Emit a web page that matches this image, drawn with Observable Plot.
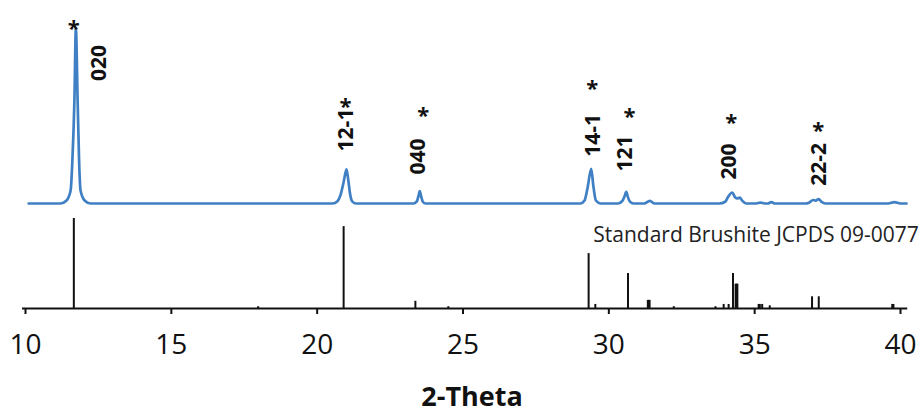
<!DOCTYPE html>
<html><head><meta charset="utf-8">
<script src="https://cdn.jsdelivr.net/npm/d3@7"></script>
<script src="https://cdn.jsdelivr.net/npm/@observablehq/plot@0.6"></script>
<style>body{margin:0;background:#fff;}</style>
</head><body><div id="chart"></div>
<script>
// Measured XRD pattern (2-theta, relative intensity, 020 peak = 100)
const patternTheta = [10.21, 11.30, 11.51, 11.65, 11.71, 11.78, 11.83, 11.89, 11.94, 11.99, 12.13, 12.33,
  20.63, 20.80, 20.90, 21.00, 21.11, 21.17, 21.24, 21.31, 21.44,
  23.40, 23.52, 23.58, 23.62, 23.67, 23.72, 23.82,
  29.13, 29.27, 29.37, 29.50, 29.57, 29.66, 29.82,
  30.42, 30.57, 30.64, 30.70, 30.76, 30.82, 30.95,
  31.32, 31.51, 31.67,
  33.89, 34.09, 34.20, 34.33, 34.44, 34.51, 34.59, 34.68, 34.81,
  35.15, 35.30, 35.45, 35.55, 35.68, 35.80,
  36.84, 36.98, 37.11, 37.19, 37.30, 37.39, 37.53,
  39.69, 39.89, 40.10, 40.31];
const patternIntensity = [0, 0, 1.7, 7.4, 24.6, 58.9, 100, 58.9, 24.6, 7.4, 1.7, 0,
  0, 1.3, 4.6, 11.4, 19.5, 13.3, 4.6, 1.1, 0,
  0, 1.2, 4.5, 7.1, 4.0, 1.2, 0,
  0, 1.7, 8.6, 19.8, 10.3, 1.7, 0,
  0, 1.5, 4.0, 6.6, 3.5, 1.2, 0,
  0, 1.5, 0,
  0, 1.0, 4.0, 6.3, 3.4, 2.9, 3.4, 1.5, 0,
  0, 0.5, 0, 0, 0.8, 0,
  0, 0.6, 2.0, 1.6, 2.5, 1.0, 0,
  0, 0.8, 0, 0];

// Standard Brushite JCPDS 09-0077 stick pattern (relative intensity)
const stickTheta = [11.76, 18.08, 21.01, 23.47, 24.60, 29.41, 29.64, 30.76, 31.44, 31.47, 31.50, 32.33, 33.76,
  34.04, 34.21, 34.36, 34.45, 34.48, 34.51, 35.24, 35.28, 35.36, 35.62, 37.07, 37.30, 39.82, 39.86];
const stickIntensity = [100, 2, 91, 8, 2, 61, 4.5, 39, 9, 9, 9, 2, 2,
  4.5, 4.5, 39, 27, 27, 27, 4.5, 4.5, 4.5, 3, 13, 13, 4.5, 4.5];

// Peak annotations (hkl) and asterisks, positioned in pattern intensity units
const peakLabels = ["020", "12-1", "040", "14-1", "121", "200", "22-2"];
const peakLabelTheta = [12.64, 21.10, 23.56, 29.56, 30.67, 34.24, 37.32];
const peakLabelLevel = [80.3, 42.0, 26.9, 38.9, 28.6, 24.0, 22.3];
const starTheta = [11.76, 21.07, 23.74, 29.53, 30.81, 34.30, 37.28];
const starLevel = [103.0, 58.5, 53.5, 68.7, 52.7, 49.3, 45.0];

const xTicks = [10, 15, 20, 25, 30, 35, 40];
const xDomain = [10, 40];
const axisEnd = 40.35;
const xLabel = "2-Theta";
const standardLabel = "Standard Brushite JCPDS 09-0077";
const standardLabelTheta = 29.57;
const standardLabelLevel = 81;

// Layout of the stacked display (y scale in drawing units)
const PATTERN_BASE = 105, PATTERN_GAIN = 1.75, STICK_GAIN = 0.9;

const pattern = patternTheta.map((t, i) => ({t, y: PATTERN_BASE + patternIntensity[i] * PATTERN_GAIN}));
const sticks = stickTheta.map((t, i) => ({t, y: stickIntensity[i] * STICK_GAIN}));
const labels = peakLabels.map((s, i) => ({s, t: peakLabelTheta[i], y: PATTERN_BASE + peakLabelLevel[i] * PATTERN_GAIN}));
const stars = starTheta.map((t, i) => ({t, y: PATTERN_BASE + starLevel[i] * PATTERN_GAIN}));

const chart = Plot.plot({
  width: 922,
  height: 418,
  marginLeft: 22,
  marginRight: 25,
  marginTop: 0,
  marginBottom: 110,
  style: {fontFamily: "'Open Sans', sans-serif", background: "#fff", color: "#111"},
  x: {domain: xDomain},
  y: {domain: [0, 308], axis: null},
  marks: [
    Plot.axisX({ticks: xTicks, tickSize: 6, tickPadding: 20, fontSize: 28, label: null, tickFormat: d => String(d), stroke: "#111", strokeWidth: 2, dx: 3}),
    Plot.ruleY([0], {x1: xDomain[0], x2: axisEnd, stroke: "#111", strokeWidth: 2}),
    Plot.ruleX(sticks, {x: "t", y1: 0, y2: "y", stroke: "#111", strokeWidth: 2}),
    Plot.line(pattern, {x: "t", y: "y", stroke: "#3f7fc4", strokeWidth: 2.7, curve: "monotone-x"}),
    Plot.text(labels, {x: "t", y: "y", text: "s", rotate: -90, fontSize: 21, fontWeight: "bold", fill: "#111"}),
    Plot.text(stars, {x: "t", y: "y", text: () => "*", fontSize: 22, fontWeight: "bold", fill: "#111", dy: 6}),
    Plot.text([standardLabel], {x: standardLabelTheta, y: standardLabelLevel * STICK_GAIN, text: d => d, textAnchor: "start", fontSize: 21, fill: "#222"}),
    Plot.text([xLabel], {frameAnchor: "bottom", text: d => d, dy: 97, dx: 12, fontSize: 27, fontWeight: "bold", fill: "#111"})
  ]
});
document.getElementById("chart").appendChild(chart);
</script>
</body></html>
